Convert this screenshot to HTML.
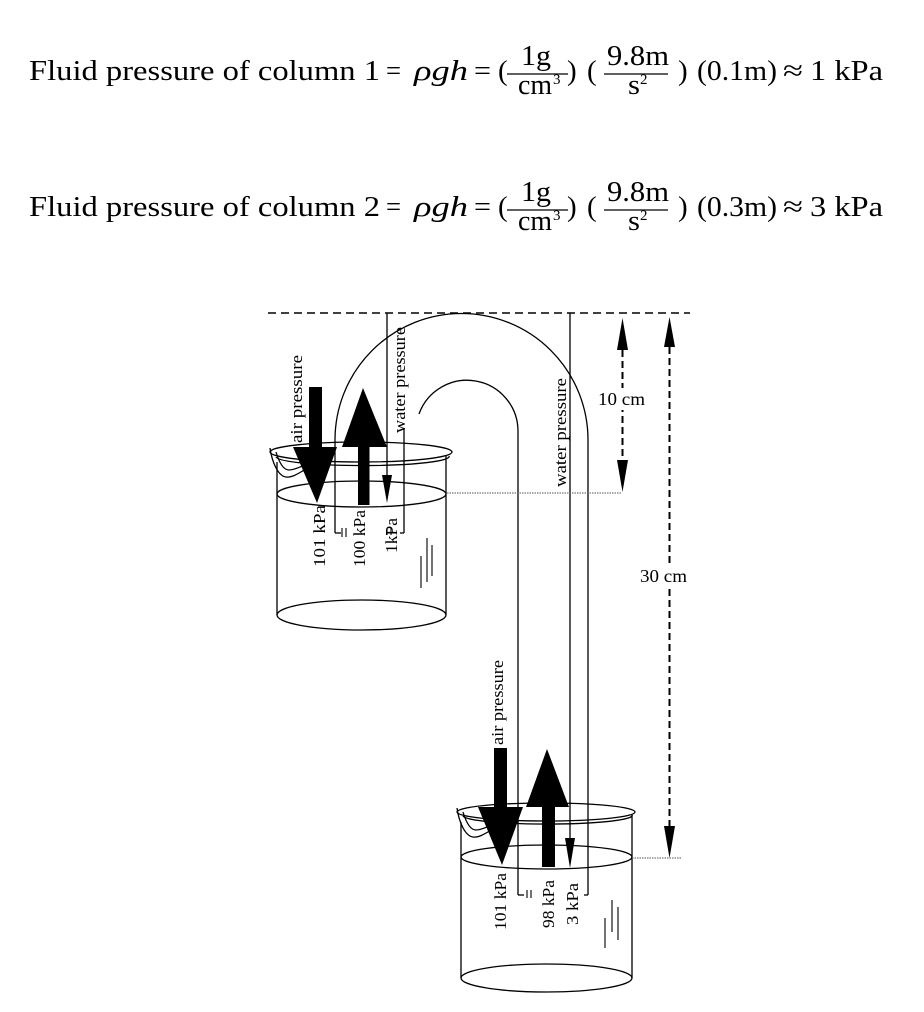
<!DOCTYPE html>
<html>
<head>
<meta charset="utf-8">
<style>
  html, body { margin:0; padding:0; background:#ffffff; }
  body { width:924px; height:1012px; overflow:hidden; }
  svg { display:block; }
  text { font-family: "Liberation Serif", serif; fill:#000; }
</style>
</head>
<body>
<svg width="924" height="1012" viewBox="0 0 924 1012" xmlns="http://www.w3.org/2000/svg">
  <rect width="924" height="1012" fill="#fff"/>

  <!-- ============ Equation line 1 ============ -->
  <g font-size="29">
    <text x="29" y="80" textLength="351" lengthAdjust="spacingAndGlyphs">Fluid pressure of column 1</text>
    <text x="386" y="80" textLength="15" lengthAdjust="spacingAndGlyphs">=</text>
    <text x="414" y="80" font-style="italic" textLength="54" lengthAdjust="spacingAndGlyphs">ρgh</text>
    <text x="474" y="80" textLength="17" lengthAdjust="spacingAndGlyphs">=</text>
    <text x="498" y="80">(</text>
    <text x="521" y="65" textLength="30" lengthAdjust="spacingAndGlyphs">1g</text>
    <line x1="507" y1="74" x2="568" y2="74" stroke="#000" stroke-width="1.2"/>
    <text x="518" y="94" textLength="34" lengthAdjust="spacingAndGlyphs">cm</text>
    <text x="553" y="84" font-size="15">3</text>
    <text x="567" y="80">)</text>
    <text x="587" y="80">(</text>
    <text x="607" y="65" textLength="62" lengthAdjust="spacingAndGlyphs">9.8m</text>
    <line x1="604" y1="74" x2="668" y2="74" stroke="#000" stroke-width="1.2"/>
    <text x="628" y="94" textLength="12" lengthAdjust="spacingAndGlyphs">s</text>
    <text x="640" y="84" font-size="15">2</text>
    <text x="678" y="80">)</text>
    <text x="697" y="80" textLength="80" lengthAdjust="spacingAndGlyphs">(0.1m)</text>
    <text x="783" y="80" textLength="20" lengthAdjust="spacingAndGlyphs">≈</text>
    <text x="810" y="80" textLength="73" lengthAdjust="spacingAndGlyphs">1 kPa</text>
  </g>

  <!-- ============ Equation line 2 ============ -->
  <g font-size="29">
    <text x="29" y="216" textLength="351" lengthAdjust="spacingAndGlyphs">Fluid pressure of column 2</text>
    <text x="386" y="216" textLength="15" lengthAdjust="spacingAndGlyphs">=</text>
    <text x="414" y="216" font-style="italic" textLength="54" lengthAdjust="spacingAndGlyphs">ρgh</text>
    <text x="474" y="216" textLength="17" lengthAdjust="spacingAndGlyphs">=</text>
    <text x="498" y="216">(</text>
    <text x="521" y="201" textLength="30" lengthAdjust="spacingAndGlyphs">1g</text>
    <line x1="507" y1="210" x2="568" y2="210" stroke="#000" stroke-width="1.2"/>
    <text x="518" y="230" textLength="34" lengthAdjust="spacingAndGlyphs">cm</text>
    <text x="553" y="220" font-size="15">3</text>
    <text x="567" y="216">)</text>
    <text x="587" y="216">(</text>
    <text x="607" y="201" textLength="62" lengthAdjust="spacingAndGlyphs">9.8m</text>
    <line x1="604" y1="210" x2="668" y2="210" stroke="#000" stroke-width="1.2"/>
    <text x="628" y="230" textLength="12" lengthAdjust="spacingAndGlyphs">s</text>
    <text x="640" y="220" font-size="15">2</text>
    <text x="678" y="216">)</text>
    <text x="697" y="216" textLength="80" lengthAdjust="spacingAndGlyphs">(0.3m)</text>
    <text x="783" y="216" textLength="20" lengthAdjust="spacingAndGlyphs">≈</text>
    <text x="810" y="216" textLength="73" lengthAdjust="spacingAndGlyphs">3 kPa</text>
  </g>

  <!-- ============ Diagram ============ -->
  <g fill="none" stroke="#000" stroke-width="1.3">
    <!-- top dashed reference line -->
    <line x1="268" y1="313" x2="690" y2="313" stroke-width="1.6" stroke-dasharray="8 5"/>

    <!-- siphon tube outer arc + walls -->
    <path d="M335,533 L335,440 A126.5,126.5 0 0 1 588,440 L588,895"/>
    <line x1="335" y1="533" x2="341" y2="533"/>
    <line x1="584" y1="895" x2="588" y2="895"/>
    <!-- inner arc + walls -->
    <path d="M419,414 A51,51 0 0 1 518,431 L518,895"/>
    <line x1="518" y1="895" x2="524" y2="895"/>
    <line x1="404" y1="428" x2="404" y2="533"/>
    <line x1="400" y1="533" x2="404" y2="533"/>

    <!-- ===== Top beaker ===== -->
    <ellipse cx="361" cy="452" rx="91" ry="10"/>
    <path d="M276,457 A86,9 0 0 0 449,456"/>
    <path d="M270,448 C272,462 278,476 286,477 C293,478 300,472 308,468" />
    <path d="M276,452 C279,462 283,470 289,470 C295,470 301,466 308,464" />
    <line x1="277" y1="462" x2="277" y2="615"/>
    <line x1="446" y1="456" x2="446" y2="615"/>
    <ellipse cx="361.5" cy="494" rx="84.5" ry="13"/>
    <ellipse cx="361.5" cy="615" rx="84.5" ry="15"/>
    <!-- scale marks -->
    <line x1="421" y1="556" x2="421" y2="588" stroke-width="1.1"/>
    <line x1="427" y1="538" x2="427" y2="582" stroke-width="1.1"/>
    <line x1="432" y1="545" x2="432" y2="576" stroke-width="1.1"/>

    <!-- ===== Bottom beaker ===== -->
    <ellipse cx="546" cy="812" rx="89" ry="9"/>
    <path d="M463,816 A84,8.5 0 0 0 632,815"/>
    <path d="M457,808 C459,822 465,836 473,837 C480,838 487,832 495,828" />
    <path d="M463,812 C466,822 470,830 476,830 C482,830 488,826 495,824" />
    <line x1="461" y1="822" x2="461" y2="978"/>
    <line x1="632" y1="815" x2="632" y2="978"/>
    <ellipse cx="546.5" cy="857" rx="85.5" ry="12"/>
    <ellipse cx="546.5" cy="978" rx="85.5" ry="14"/>
    <line x1="605" y1="918" x2="605" y2="948" stroke-width="1.1"/>
    <line x1="612" y1="900" x2="612" y2="932" stroke-width="1.1"/>
    <line x1="618" y1="907" x2="618" y2="940" stroke-width="1.1"/>

    <!-- water pressure thin lines -->
    <line x1="387" y1="313" x2="387" y2="480"/>
    <line x1="570" y1="313" x2="570" y2="842"/>

    <!-- dotted guide lines -->
    <line x1="447" y1="493" x2="622" y2="493" stroke="#555" stroke-width="1" stroke-dasharray="1.5 1"/>
    <line x1="632" y1="858" x2="681" y2="858" stroke="#555" stroke-width="1" stroke-dasharray="1.5 1"/>

    <!-- 10 cm dashed shaft -->
    <line x1="622.5" y1="350" x2="622.5" y2="460" stroke-width="2" stroke-dasharray="7 4"/>
    <!-- 30 cm dashed shaft -->
    <line x1="669.5" y1="347" x2="669.5" y2="826" stroke-width="2" stroke-dasharray="7 4"/>
  </g>

  <!-- white backgrounds for dimension labels -->
  <rect x="596" y="388" width="52" height="22" fill="#fff"/>
  <rect x="638" y="563" width="52" height="25" fill="#fff"/>

  <g fill="#000" stroke="none">
    <!-- thin arrowheads -->
    <polygon points="382,475 392,475 387,503"/>
    <polygon points="565,838 575,838 570,868"/>
    <!-- dimension arrowheads -->
    <polygon points="617,350 628,350 622.5,318"/>
    <polygon points="617,460 628,460 622.5,492"/>
    <polygon points="664,347 675,347 669.5,317"/>
    <polygon points="664,826 675,826 669.5,858"/>

    <!-- top beaker big arrows -->
    <rect x="309" y="387" width="13" height="61"/>
    <polygon points="293,447 337,447 317,503"/>
    <rect x="358" y="446" width="11.5" height="59"/>
    <polygon points="342,447 387,447 363,388"/>

    <!-- bottom beaker big arrows -->
    <rect x="494" y="748" width="13" height="60"/>
    <polygon points="478,807 523,807 502,865"/>
    <rect x="542" y="806" width="13" height="61"/>
    <polygon points="526,807 569,807 547,749"/>
  </g>

  <!-- small rotated "=" marks -->
  <g stroke="#000" stroke-width="1.1">
    <line x1="342" y1="528" x2="342" y2="537"/>
    <line x1="346" y1="528" x2="346" y2="537"/>
    <line x1="387" y1="528" x2="387" y2="535"/>
    <line x1="391" y1="528" x2="391" y2="535"/>
    <line x1="527" y1="890" x2="527" y2="898"/>
    <line x1="531" y1="890" x2="531" y2="898"/>
  </g>

  <!-- dimension labels -->
  <text x="598" y="405" font-size="18" textLength="47" lengthAdjust="spacingAndGlyphs">10 cm</text>
  <text x="640" y="582" font-size="18" textLength="47" lengthAdjust="spacingAndGlyphs">30 cm</text>

  <!-- rotated labels -->
  <g font-size="17">
    <text transform="translate(302,443) rotate(-90)" textLength="88" lengthAdjust="spacingAndGlyphs">air pressure</text>
    <text transform="translate(405,433) rotate(-90)" textLength="106" lengthAdjust="spacingAndGlyphs">water pressure</text>
    <text transform="translate(566,487) rotate(-90)" textLength="109" lengthAdjust="spacingAndGlyphs">water pressure</text>
    <text transform="translate(503,745) rotate(-90)" textLength="85" lengthAdjust="spacingAndGlyphs">air pressure</text>

    <text transform="translate(325,567) rotate(-90)" textLength="62" lengthAdjust="spacingAndGlyphs">101 kPa</text>
    <text transform="translate(365,567) rotate(-90)" textLength="57" lengthAdjust="spacingAndGlyphs">100 kPa</text>
    <text transform="translate(397,553) rotate(-90)" textLength="35" lengthAdjust="spacingAndGlyphs">1kPa</text>

    <text transform="translate(506,930) rotate(-90)" textLength="57" lengthAdjust="spacingAndGlyphs">101 kPa</text>
    <text transform="translate(554,928) rotate(-90)" textLength="48" lengthAdjust="spacingAndGlyphs">98 kPa</text>
    <text transform="translate(578,925) rotate(-90)" textLength="42" lengthAdjust="spacingAndGlyphs">3 kPa</text>
  </g>
</svg>
</body>
</html>
